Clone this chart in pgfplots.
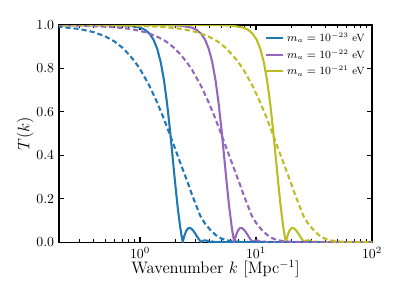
\documentclass[border=0pt]{standalone}
\usepackage{pgfplots}
\usepackage{pgfplotstable}
\pgfplotsset{compat=1.18}
\definecolor{tabblue}{HTML}{1F77B4}
\definecolor{tabpurple}{HTML}{9467BD}
\definecolor{tabolive}{HTML}{BCBD22}

% solid: |T(k)| for the three masses (k columns), shared T column
\pgfplotstableread{
kb kp ky T
0.0201 0.0559 0.1555 1.0000
0.2009 0.5590 1.5555 1.0000
0.4018 1.1180 3.1110 1.0000
0.6027 1.6770 4.6664 0.9996
0.8036 2.2360 6.2219 0.9973
1.0045 2.7950 7.7774 0.9883
1.1049 3.0745 8.5551 0.9780
1.2054 3.3540 9.3329 0.9606
1.3058 3.6335 10.1106 0.9328
1.4063 3.9130 10.8884 0.8904
1.5067 4.1925 11.6661 0.8293
1.6072 4.4720 12.4438 0.7465
1.7076 4.7516 13.2216 0.6422
1.8081 5.0311 13.9993 0.5213
1.9085 5.3106 14.7771 0.3935
2.0090 5.5901 15.5548 0.2702
2.1094 5.8696 16.3325 0.1621
2.2098 6.1491 17.1103 0.0755
2.2701 6.3168 17.5769 0.0349
2.3352 6.4978 18.0809 0.0000
2.4107 6.7081 18.6658 0.0295
2.5112 6.9876 19.4435 0.0536
2.6116 7.2671 20.2212 0.0640
2.7121 7.5466 20.9990 0.0646
2.8125 7.8261 21.7767 0.0584
2.9130 8.1056 22.5545 0.0485
3.0134 8.3851 23.3322 0.0365
3.1139 8.6646 24.1099 0.0243
3.2143 8.9441 24.8877 0.0132
3.3148 9.2236 25.6654 0.0039
3.3680 9.3717 26.0776 0.0000
3.4554 9.6149 26.7543 0.0047
3.5358 9.8385 27.3764 0.0072
3.6161 10.0621 27.9986 0.0081
3.7166 10.3416 28.7764 0.0072
3.8170 10.6211 29.5541 0.0049
3.9175 10.9006 30.3319 0.0020
3.9930 11.1109 30.9167 0.0000
4.2188 11.7391 32.6651 0.0026
4.4679 12.4323 34.5939 0.0000
4.8215 13.4161 37.3315 0.0003
6.0269 16.7702 46.6644 0.0000
200 200 200 0.0000
}\solidtab

% dashed curves
\pgfplotstableread{
kb kp ky T
0.02 0.0557 0.1549 1.0000
0.05 0.1391 0.3871 0.9995
0.1 0.2783 0.7743 0.998
0.2 0.5565 1.5485 0.992
0.3 0.8348 2.3228 0.982
0.4 1.1130 3.0970 0.967
0.5 1.3913 3.8713 0.948
0.6 1.6696 4.6456 0.925
0.7 1.9478 5.4198 0.897
0.8 2.2261 6.1941 0.865
0.9 2.5043 6.9683 0.832
1.0 2.7826 7.7426 0.797
1.2 3.3391 9.2911 0.722
1.4 3.8956 10.8396 0.645
1.6 4.4522 12.3882 0.570
1.8 5.0087 13.9367 0.498
2.0 5.5652 15.4852 0.432
2.2 6.1217 17.0337 0.372
2.4 6.6782 18.5822 0.318
2.6 7.2348 20.1308 0.268
2.8 7.7913 21.6793 0.220
3.0 8.3478 23.2278 0.178
3.3 9.1826 25.5506 0.122
3.6 10.0174 27.8734 0.088
4.0 11.1304 30.9704 0.058
4.5 12.5217 34.8417 0.032
5.0 13.9130 38.7130 0.017
5.6 15.5826 43.3586 0.008
6.5 18.0869 50.3269 0.003
8.0 22.2608 61.9408 0.0005
10 27.826 77.426 0.0
40 111.3 309.7 0.0
}\dashtab

\begin{document}
\begin{tikzpicture}
\begin{axis}[
  scale only axis,
  width=226.2pt, height=156.8pt,
  xmode=log, xmin=0.2, xmax=100,
  ymin=0, ymax=1,
  ytick={0,0.2,0.4,0.6,0.8,1.0},
  yticklabel style={/pgf/number format/.cd,fixed,fixed zerofill,precision=1},
  tick align=inside,
  major tick length=3.5pt, minor tick length=2pt,
  every tick/.style={black, line width=0.8pt},
  minor tick style={line width=0.6pt},
  axis line style={line width=0.8pt},
  tick label style={font=\fontsize{10}{12}\selectfont},
  xlabel={Wavenumber $k$ [Mpc$^{-1}$]},
  ylabel={$T(k)$},
  every axis x label/.style={at={(axis description cs:0.5,-0.125)},anchor=center,font=\fontsize{12}{14}\selectfont},
  every axis y label/.style={at={(axis description cs:-0.108,0.5)},rotate=90,anchor=center,font=\fontsize{12}{14}\selectfont},
  legend style={draw=none, fill=none, at={(axis description cs:1.0,0.99)}, anchor=north east,
    font=\fontsize{7.6}{9}\selectfont, row sep=0.3pt},
  legend cell align=left,
  legend image code/.code={\draw[#1] (0cm,0cm) -- (0.43cm,0cm);},
]
\addplot[tabblue, line width=1.5pt] table[x=kb,y=T] {\solidtab};
\addlegendentry{$m_a = 10^{-23}$ eV}
\addplot[tabpurple, line width=1.5pt] table[x=kp,y=T] {\solidtab};
\addlegendentry{$m_a = 10^{-22}$ eV}
\addplot[tabolive, line width=1.5pt] table[x=ky,y=T] {\solidtab};
\addlegendentry{$m_a = 10^{-21}$ eV}
\addplot[tabblue, line width=1.5pt, dash pattern=on 3.7pt off 2.2pt, forget plot] table[x=kb,y=T] {\dashtab};
\addplot[tabpurple, line width=1.5pt, dash pattern=on 3.7pt off 2.2pt, forget plot] table[x=kp,y=T] {\dashtab};
\addplot[tabolive, line width=1.5pt, dash pattern=on 3.7pt off 2.2pt, forget plot] table[x=ky,y=T] {\dashtab};
\coordinate (sw) at (rel axis cs:0,0);
\coordinate (ne) at (rel axis cs:1,1);
\end{axis}
\pgfresetboundingbox
\path ([shift={(-42.6pt,-41.9pt)}]sw) rectangle ([shift={(20.2pt,18.1pt)}]ne);
\end{tikzpicture}
\end{document}
